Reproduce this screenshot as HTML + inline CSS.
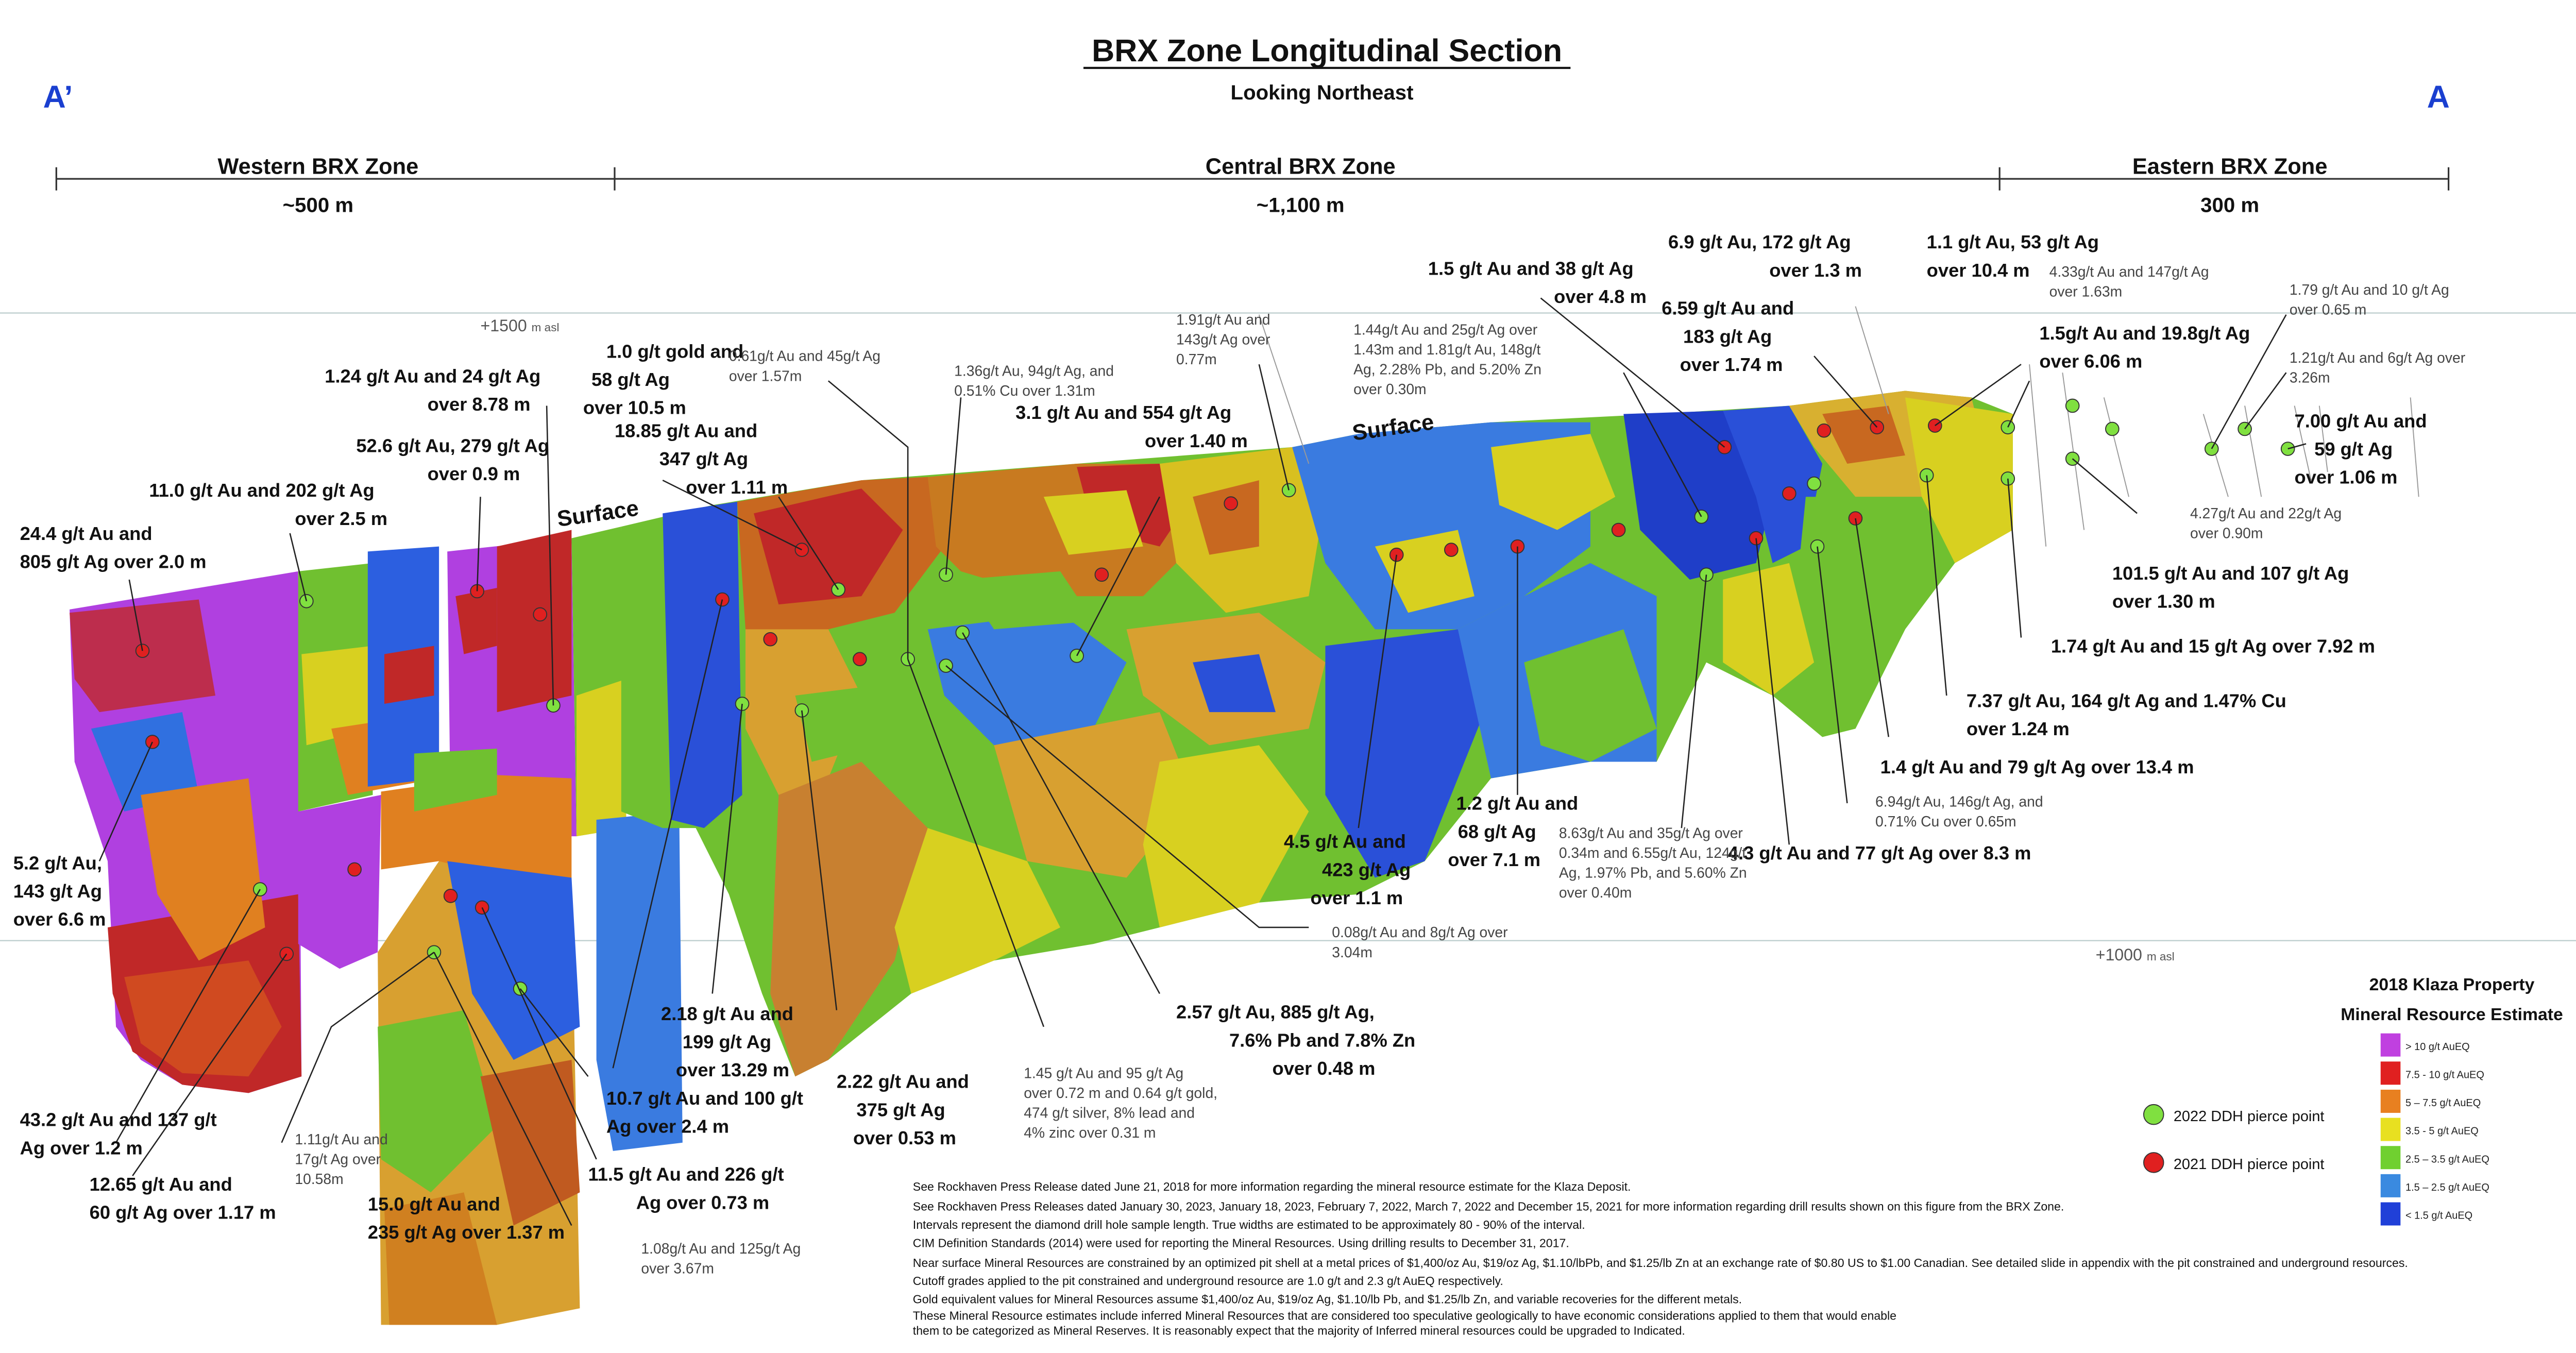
<!DOCTYPE html>
<html><head><meta charset="utf-8"><style>
html,body{margin:0;padding:0;background:#fff}
svg{display:block}
text{font-family:"Liberation Sans",sans-serif}
.b{font-weight:bold;font-size:11.3px;fill:#111}
.s{font-size:8.8px;fill:#444}
.f{font-size:7.2px;fill:#111}
.l{stroke:#222;stroke-width:0.8;fill:none}
.dh{stroke:#999;stroke-width:0.6;fill:none}
</style></head><body>
<svg width="5042" height="2626" viewBox="0 0 1568 817" preserveAspectRatio="none" xmlns="http://www.w3.org/2000/svg">
<rect width="1568" height="817" fill="#fff"/>
<text x="801" y="37" text-anchor="middle" font-size="19" font-weight="bold" fill="#111">BRX Zone Longitudinal Section</text>
<line x1="654" y1="41" x2="948" y2="41" stroke="#111" stroke-width="1.3"/>
<text x="798" y="60" text-anchor="middle" font-size="12.5" font-weight="bold" fill="#111">Looking Northeast</text>
<text x="26" y="65" font-size="19" font-weight="bold" fill="#1a3fd0">A’</text>
<text x="1465" y="65" font-size="19" font-weight="bold" fill="#1a3fd0">A</text>
<line x1="34" y1="108" x2="1478" y2="108" stroke="#333" stroke-width="1"/>
<line x1="34" y1="101" x2="34" y2="115" stroke="#333"/><line x1="371" y1="101" x2="371" y2="115" stroke="#333"/>
<line x1="1207" y1="101" x2="1207" y2="115" stroke="#333"/><line x1="1478" y1="101" x2="1478" y2="115" stroke="#333"/>
<text x="192" y="105" text-anchor="middle" font-size="13.5" font-weight="bold" fill="#111">Western BRX Zone</text>
<text x="192" y="128" text-anchor="middle" font-size="12.5" font-weight="bold" fill="#111">~500 m</text>
<text x="785" y="105" text-anchor="middle" font-size="13.5" font-weight="bold" fill="#111">Central BRX Zone</text>
<text x="785" y="128" text-anchor="middle" font-size="12.5" font-weight="bold" fill="#111">~1,100 m</text>
<text x="1346" y="105" text-anchor="middle" font-size="13.5" font-weight="bold" fill="#111">Eastern BRX Zone</text>
<text x="1346" y="128" text-anchor="middle" font-size="12.5" font-weight="bold" fill="#111">300 m</text>
<line x1="0" y1="189" x2="1568" y2="189" stroke="#bcc" stroke-width="0.7"/>
<text x="290" y="200" font-size="10" fill="#555">+1500 <tspan font-size="7">m asl</tspan></text>
<line x1="0" y1="568" x2="1568" y2="568" stroke="#bcc" stroke-width="0.7"/>
<text x="1265" y="580" font-size="10" fill="#555">+1000 <tspan font-size="7">m asl</tspan></text>

<polygon points="42,368 180,345 182,650 150,660 110,655 85,640 70,620 65,520 45,460" fill="#b040e0"/>
<polygon points="65,560 180,540 182,650 150,660 110,655 80,635 68,600" fill="#c02828"/>
<polygon points="75,590 150,580 170,620 150,650 110,648 85,630" fill="#d04a20"/>
<polygon points="42,370 120,362 130,420 60,430 45,410" fill="#c02828" opacity="0.8"/>
<polygon points="55,440 110,430 120,480 75,490" fill="#3070e0"/>
<polygon points="85,480 150,470 160,560 120,580 95,540" fill="#e08020"/>
<polygon points="180,345 225,340 225,480 180,490" fill="#70c030"/>
<polygon points="182,395 225,390 225,440 185,450" fill="#d8d020"/>
<polygon points="200,440 265,430 265,470 210,480" fill="#e08020"/>
<polygon points="222,333 265,330 265,470 222,475" fill="#2c5fe0"/>
<polygon points="232,395 262,390 262,420 232,425" fill="#c02828"/>
<polygon points="270,333 345,325 348,505 300,505 272,495" fill="#b040e0"/>
<polygon points="300,330 345,320 345,420 300,430" fill="#c02828"/>
<polygon points="275,360 300,355 300,390 280,395" fill="#c02828"/>
<polygon points="180,490 230,480 228,575 205,585 180,570" fill="#b040e0"/>
<polygon points="230,478 300,468 345,470 345,560 300,540 265,520 230,525" fill="#e08020"/>
<polygon points="250,455 300,452 300,480 250,490" fill="#70c030"/>
<polygon points="228,575 265,520 345,540 350,790 300,800 230,800" fill="#d8a030"/>
<polygon points="270,520 345,530 350,620 310,640 285,600" fill="#2c5fe0"/>
<polygon points="228,620 280,610 300,680 260,720 230,700" fill="#70c030"/>
<polygon points="290,650 345,640 350,720 310,740" fill="#c05a20"/>
<polygon points="232,730 280,720 300,800 235,800" fill="#d08020"/>
<polygon points="345,325 375,318 378,500 348,505" fill="#70c030"/>
<polygon points="348,420 378,410 378,500 348,505" fill="#d8d020"/>
<polygon points="360,495 410,490 412,690 370,695 360,640" fill="#3a7be0"/>

<polygon points="375,318 430,305 520,290 650,280 780,270 820,262 900,255 1000,250 1080,245 1150,236 1190,240 1215,250 1215,320 1180,340 1150,380 1120,440 1100,445 1070,420 1030,400 1000,460 960,460 900,470 860,520 820,540 760,545 700,560 660,570 600,580 550,600 500,640 480,650 460,600 440,540 420,500 400,500 375,490" fill="#70c030"/>
<polygon points="400,310 445,303 448,480 425,500 405,495" fill="#2a50d8"/>
<polygon points="445,303 520,290 560,288 570,330 540,370 500,380 470,400 450,380" fill="#c86820"/>
<polygon points="455,310 520,295 545,320 520,360 470,365" fill="#c02828"/>
<polygon points="560,288 650,280 700,280 720,330 690,360 630,360 580,345 565,330" fill="#c87a20"/>
<polygon points="650,282 700,280 720,300 700,330 660,320" fill="#c02828"/>
<polygon points="700,280 780,270 800,300 790,360 740,370 710,340" fill="#d8c020"/>
<polygon points="720,300 760,290 760,330 730,335" fill="#c86820"/>
<polygon points="450,380 500,380 520,420 500,470 470,480 450,440" fill="#d8a030"/>
<polygon points="470,480 520,460 560,500 540,580 500,640 480,650 465,600" fill="#c88030"/>
<polygon points="560,380 640,370 680,400 660,440 600,450 570,420" fill="#3a7be0"/>
<polygon points="600,450 700,430 720,480 680,530 620,520" fill="#d8a030"/>
<polygon points="680,380 760,370 800,400 790,440 730,450 690,420" fill="#d8a030"/>
<polygon points="560,500 620,520 640,560 600,580 550,600 540,560" fill="#d8d020"/>
<polygon points="700,460 760,450 790,490 760,545 700,560 690,510" fill="#d8d020"/>
<polygon points="780,270 820,262 900,255 960,255 960,330 920,360 880,380 830,380 800,340" fill="#3a7be0"/>
<polygon points="800,390 880,380 900,420 880,470 860,520 830,530 800,480" fill="#2a50d8"/>
<polygon points="880,380 960,340 1000,360 1000,460 960,460 900,470" fill="#3a7be0"/>
<polygon points="980,250 1040,248 1070,300 1060,340 1020,350 990,320" fill="#1f3ec8"/>
<polygon points="1040,248 1080,245 1100,280 1090,330 1070,340 1060,300" fill="#2a50d8"/>
<polygon points="900,270 960,262 975,300 940,320 905,305" fill="#d8d020"/>
<polygon points="1080,245 1150,236 1190,240 1200,280 1170,300 1120,300 1095,270" fill="#d8b030"/>
<polygon points="1100,250 1140,245 1150,275 1115,280" fill="#c86820"/>
<polygon points="1150,240 1215,250 1215,320 1180,340 1160,300" fill="#d8d020"/>
<polygon points="1090,300 1160,300 1150,380 1120,440 1100,445 1080,400" fill="#70c030"/>
<polygon points="1040,350 1080,340 1095,400 1070,420 1040,400" fill="#d8d020"/>
<polygon points="920,400 980,380 1000,440 960,460 930,450" fill="#70c030"/>
<polygon points="830,330 880,320 890,360 850,370" fill="#d8d020"/>
<polygon points="630,300 680,296 690,330 645,335" fill="#d8d020"/>
<polygon points="580,350 640,345 660,375 600,380" fill="#70c030"/>
<polygon points="720,400 760,395 770,430 730,430" fill="#2a50d8"/>
<polygon points="480,420 520,415 530,450 490,460" fill="#70c030"/>

<g class="dh">
<line x1="1225" y1="220" x2="1235" y2="330"/><line x1="1245" y1="225" x2="1258" y2="320"/>
<line x1="1330" y1="250" x2="1345" y2="300"/><line x1="1355" y1="245" x2="1365" y2="300"/>
<line x1="1385" y1="245" x2="1395" y2="290"/><line x1="1400" y1="245" x2="1405" y2="285"/>
<line x1="1270" y1="240" x2="1285" y2="300"/><line x1="1455" y1="240" x2="1460" y2="300"/>
<line x1="760" y1="190" x2="790" y2="280"/><line x1="1120" y1="185" x2="1140" y2="250"/>
</g>

<text x="337" y="318" font-size="13.5" font-weight="bold" fill="#111" transform="rotate(-8 337 318)">Surface</text>
<text x="817" y="266" font-size="13.5" font-weight="bold" fill="#111" transform="rotate(-8 817 266)">Surface</text>

<g stroke="#333" stroke-width="0.6">
<g fill="#e02020">
<circle cx="86" cy="393" r="4"/><circle cx="92" cy="448" r="4"/><circle cx="214" cy="525" r="4"/><circle cx="173" cy="576" r="4"/>
<circle cx="288" cy="357" r="4"/><circle cx="326" cy="371" r="4"/><circle cx="436" cy="362" r="4"/><circle cx="484" cy="332" r="4"/>
<circle cx="465" cy="386" r="4"/><circle cx="519" cy="398" r="4"/><circle cx="665" cy="347" r="4"/><circle cx="743" cy="304" r="4"/>
<circle cx="843" cy="335" r="4"/><circle cx="876" cy="332" r="4"/><circle cx="916" cy="330" r="4"/><circle cx="977" cy="320" r="4"/>
<circle cx="1041" cy="270" r="4"/><circle cx="1060" cy="325" r="4"/><circle cx="1101" cy="260" r="4"/><circle cx="1133" cy="258" r="4"/>
<circle cx="1168" cy="257" r="4"/><circle cx="1120" cy="313" r="4"/><circle cx="1080" cy="298" r="4"/><circle cx="291" cy="548" r="4"/><circle cx="272" cy="541" r="4"/>
</g>
<g fill="#80e040">
<circle cx="157" cy="537" r="4"/><circle cx="185" cy="363" r="4"/><circle cx="334" cy="426" r="4"/><circle cx="262" cy="575" r="4"/>
<circle cx="314" cy="597" r="4"/><circle cx="448" cy="425" r="4"/><circle cx="484" cy="429" r="4"/><circle cx="506" cy="356" r="4"/>
<circle cx="548" cy="398" r="4"/><circle cx="571" cy="347" r="4"/><circle cx="571" cy="402" r="4"/><circle cx="581" cy="382" r="4"/>
<circle cx="650" cy="396" r="4"/><circle cx="778" cy="296" r="4"/><circle cx="1027" cy="312" r="4"/><circle cx="1030" cy="347" r="4"/>
<circle cx="1097" cy="330" r="4"/><circle cx="1095" cy="292" r="4"/><circle cx="1163" cy="287" r="4"/><circle cx="1212" cy="258" r="4"/>
<circle cx="1212" cy="289" r="4"/><circle cx="1251" cy="245" r="4"/><circle cx="1251" cy="277" r="4"/><circle cx="1275" cy="259" r="4"/>
<circle cx="1335" cy="271" r="4"/><circle cx="1355" cy="259" r="4"/><circle cx="1381" cy="271" r="4"/>
</g></g>

<g class="l">
<polyline points="86,393 78,350"/><polyline points="185,363 175,322"/><polyline points="288,357 290,300"/><polyline points="334,426 330,245"/>
<polyline points="484,332 400,290"/><polyline points="506,356 470,300"/><polyline points="548,398 548,270 500,230"/><polyline points="571,347 580,240"/>
<polyline points="650,396 700,300"/><polyline points="778,296 760,220"/><polyline points="1041,270 930,180"/><polyline points="1027,312 980,225"/>
<polyline points="1133,258 1095,215"/><polyline points="1168,257 1220,220"/><polyline points="1212,258 1225,230"/><polyline points="1335,271 1380,190"/>
<polyline points="1355,259 1380,225"/><polyline points="1381,271 1392,268"/><polyline points="1251,277 1290,310"/><polyline points="1212,289 1220,385"/>
<polyline points="1163,287 1175,420"/><polyline points="1120,313 1140,445"/><polyline points="1097,330 1115,485"/><polyline points="1060,325 1080,510"/>
<polyline points="1030,347 1015,500"/><polyline points="916,330 916,480"/><polyline points="843,335 820,500"/>
<polyline points="571,402 760,560 790,560"/><polyline points="581,382 700,600"/><polyline points="548,398 630,620"/>
<polyline points="484,429 505,610"/><polyline points="448,425 430,600"/><polyline points="436,362 370,645"/>
<polyline points="314,597 355,650"/><polyline points="291,548 360,700"/><polyline points="262,575 345,740"/>
<polyline points="262,575 200,620 170,690"/><polyline points="157,537 70,690"/><polyline points="173,576 80,710"/><polyline points="92,448 60,520"/>
</g>

<g class="b">
<text x="12" y="326">24.4 g/t Au and</text><text x="12" y="343">805 g/t Ag over 2.0 m</text>
<text x="90" y="300">11.0 g/t Au and 202 g/t Ag</text><text x="178" y="317">over 2.5 m</text>
<text x="215" y="273">52.6 g/t Au, 279 g/t Ag</text><text x="258" y="290">over 0.9 m</text>
<text x="196" y="231">1.24 g/t Au and 24 g/t Ag</text><text x="258" y="248">over 8.78 m</text>
<text x="366" y="216">1.0 g/t gold and</text><text x="357" y="233">58 g/t Ag</text><text x="352" y="250">over 10.5 m</text>
<text x="371" y="264">18.85 g/t Au and</text><text x="398" y="281">347 g/t Ag</text><text x="414" y="298">over 1.11 m</text>
<text x="613" y="253">3.1 g/t Au and 554 g/t Ag</text><text x="691" y="270">over 1.40 m</text>
<text x="862" y="166">1.5 g/t Au and 38 g/t Ag</text><text x="938" y="183">over 4.8 m</text>
<text x="1007" y="150">6.9 g/t Au, 172 g/t Ag</text><text x="1068" y="167">over 1.3 m</text>
<text x="1003" y="190">6.59 g/t Au and</text><text x="1016" y="207">183 g/t Ag</text><text x="1014" y="224">over 1.74 m</text>
<text x="1163" y="150">1.1 g/t Au, 53 g/t Ag</text><text x="1163" y="167">over 10.4 m</text>
<text x="1231" y="205">1.5g/t Au and 19.8g/t Ag</text><text x="1231" y="222">over 6.06 m</text>
<text x="1385" y="258">7.00 g/t Au and</text><text x="1397" y="275">59 g/t Ag</text><text x="1385" y="292">over 1.06 m</text>
<text x="1275" y="350">101.5 g/t Au and 107 g/t Ag</text><text x="1275" y="367">over 1.30 m</text>
<text x="1238" y="394">1.74 g/t Au and 15 g/t Ag over 7.92 m</text>
<text x="1187" y="427">7.37 g/t Au, 164 g/t Ag and 1.47% Cu</text><text x="1187" y="444">over 1.24 m</text>
<text x="1135" y="467">1.4 g/t Au and 79 g/t Ag over 13.4 m</text>
<text x="1043" y="519">4.3 g/t Au and 77 g/t Ag over 8.3 m</text>
<text x="879" y="489">1.2 g/t Au and</text><text x="880" y="506">68 g/t Ag</text><text x="874" y="523">over 7.1 m</text>
<text x="775" y="512">4.5 g/t Au and</text><text x="798" y="529">423 g/t Ag</text><text x="791" y="546">over 1.1 m</text>
<text x="710" y="615">2.57 g/t Au, 885 g/t Ag,</text><text x="742" y="632">7.6% Pb and 7.8% Zn</text><text x="768" y="649">over 0.48 m</text>
<text x="505" y="657">2.22 g/t Au and</text><text x="517" y="674">375 g/t Ag</text><text x="515" y="691">over 0.53 m</text>
<text x="399" y="616">2.18 g/t Au and</text><text x="412" y="633">199 g/t Ag</text><text x="408" y="650">over 13.29 m</text>
<text x="366" y="667">10.7 g/t Au and 100 g/t</text><text x="366" y="684">Ag over 2.4 m</text>
<text x="355" y="713">11.5 g/t Au and 226 g/t</text><text x="384" y="730">Ag over 0.73 m</text>
<text x="222" y="731">15.0 g/t Au and</text><text x="222" y="748">235 g/t Ag over 1.37 m</text>
<text x="12" y="680">43.2 g/t Au and 137 g/t</text><text x="12" y="697">Ag over 1.2 m</text>
<text x="54" y="719">12.65 g/t Au and</text><text x="54" y="736">60 g/t Ag over 1.17 m</text>
<text x="8" y="525">5.2 g/t Au,</text><text x="8" y="542">143 g/t Ag</text><text x="8" y="559">over 6.6 m</text>
</g>

<g class="s">
<text x="440" y="218">0.61g/t Au and 45g/t Ag</text><text x="440" y="230">over 1.57m</text>
<text x="576" y="227">1.36g/t Au, 94g/t Ag, and</text><text x="576" y="239">0.51% Cu over 1.31m</text>
<text x="710" y="196">1.91g/t Au and</text><text x="710" y="208">143g/t Ag over</text><text x="710" y="220">0.77m</text>
<text x="817" y="202">1.44g/t Au and 25g/t Ag over</text><text x="817" y="214">1.43m and 1.81g/t Au, 148g/t</text><text x="817" y="226">Ag, 2.28% Pb, and 5.20% Zn</text><text x="817" y="238">over 0.30m</text>
<text x="1237" y="167">4.33g/t Au and 147g/t Ag</text><text x="1237" y="179">over 1.63m</text>
<text x="1382" y="178">1.79 g/t Au and 10 g/t Ag</text><text x="1382" y="190">over 0.65 m</text>
<text x="1382" y="219">1.21g/t Au and 6g/t Ag over</text><text x="1382" y="231">3.26m</text>
<text x="1322" y="313">4.27g/t Au and 22g/t Ag</text><text x="1322" y="325">over 0.90m</text>
<text x="1132" y="487">6.94g/t Au, 146g/t Ag, and</text><text x="1132" y="499">0.71% Cu over 0.65m</text>
<text x="941" y="506">8.63g/t Au and 35g/t Ag over</text><text x="941" y="518">0.34m and 6.55g/t Au, 124g/t</text><text x="941" y="530">Ag, 1.97% Pb, and 5.60% Zn</text><text x="941" y="542">over 0.40m</text>
<text x="804" y="566">0.08g/t Au and 8g/t Ag over</text><text x="804" y="578">3.04m</text>
<text x="618" y="651">1.45 g/t Au and 95 g/t Ag</text><text x="618" y="663">over 0.72 m and 0.64 g/t gold,</text><text x="618" y="675">474 g/t silver, 8% lead and</text><text x="618" y="687">4% zinc over 0.31 m</text>
<text x="178" y="691">1.11g/t Au and</text><text x="178" y="703">17g/t Ag over</text><text x="178" y="715">10.58m</text>
<text x="387" y="757">1.08g/t Au and 125g/t Ag</text><text x="387" y="769">over 3.67m</text>
</g>

<text x="1480" y="598" text-anchor="middle" font-size="10.5" font-weight="bold" fill="#111">2018 Klaza Property</text>
<text x="1480" y="616" text-anchor="middle" font-size="10.5" font-weight="bold" fill="#111">Mineral Resource Estimate</text>
<g font-size="6.2" fill="#222">
<rect x="1437" y="624" width="12" height="14" fill="#c040e0"/><text x="1452" y="634">&gt; 10 g/t AuEQ</text>
<rect x="1437" y="641" width="12" height="14" fill="#e02020"/><text x="1452" y="651">7.5 - 10 g/t AuEQ</text>
<rect x="1437" y="658" width="12" height="14" fill="#e88020"/><text x="1452" y="668">5 – 7.5 g/t AuEQ</text>
<rect x="1437" y="675" width="12" height="14" fill="#e8e020"/><text x="1452" y="685">3.5 - 5 g/t AuEQ</text>
<rect x="1437" y="692" width="12" height="14" fill="#70d030"/><text x="1452" y="702">2.5 – 3.5 g/t AuEQ</text>
<rect x="1437" y="709" width="12" height="14" fill="#3a8ae0"/><text x="1452" y="719">1.5 – 2.5 g/t AuEQ</text>
<rect x="1437" y="726" width="12" height="14" fill="#2040d8"/><text x="1452" y="736">&lt; 1.5 g/t AuEQ</text>
</g>
<circle cx="1300" cy="673" r="6" fill="#80e040" stroke="#333" stroke-width="0.6"/>
<text x="1312" y="677" font-size="9" fill="#111">2022 DDH pierce point</text>
<circle cx="1300" cy="702" r="6" fill="#e02020" stroke="#333" stroke-width="0.6"/>
<text x="1312" y="706" font-size="9" fill="#111">2021 DDH pierce point</text>

<g class="f">
<text x="551" y="719">See Rockhaven Press Release dated June 21, 2018 for more information regarding the mineral resource estimate for the Klaza Deposit.</text>
<text x="551" y="731">See Rockhaven Press Releases dated January 30, 2023, January 18, 2023, February 7, 2022, March 7, 2022 and December 15, 2021 for more information regarding drill results shown on this figure from the BRX Zone.</text>
<text x="551" y="742">Intervals represent the diamond drill hole sample length. True widths are estimated to be approximately 80 - 90% of the interval.</text>
<text x="551" y="753">CIM Definition Standards (2014) were used for reporting the Mineral Resources. Using drilling results to December 31, 2017.</text>
<text x="551" y="765">Near surface Mineral Resources are constrained by an optimized pit shell at a metal prices of $1,400/oz Au, $19/oz Ag, $1.10/lbPb, and $1.25/lb Zn at an exchange rate of $0.80 US to $1.00 Canadian.  See detailed slide in appendix with the pit constrained and underground resources.</text>
<text x="551" y="776">Cutoff grades applied to the pit constrained and underground resource are 1.0 g/t and 2.3 g/t AuEQ respectively.</text>
<text x="551" y="787">Gold equivalent values for Mineral Resources assume $1,400/oz Au, $19/oz Ag, $1.10/lb Pb, and $1.25/lb Zn, and variable recoveries for the different metals.</text>
<text x="551" y="797">These Mineral Resource estimates include inferred Mineral Resources that are considered too speculative geologically to have economic considerations applied to them that would enable</text>
<text x="551" y="806">them to be categorized as Mineral Reserves. It is reasonably expect that the majority of Inferred mineral resources could be upgraded to Indicated.</text>
</g>
</svg>
</body></html>
